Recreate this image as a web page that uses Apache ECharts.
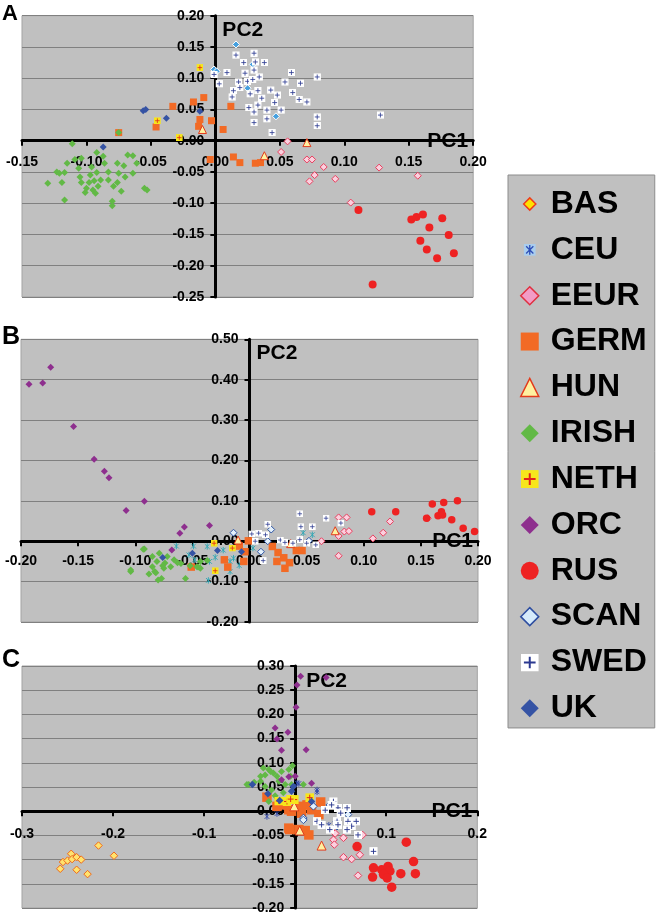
<!DOCTYPE html>
<html><head><meta charset="utf-8">
<script src="https://cdn.jsdelivr.net/npm/echarts@6/dist/echarts.min.js"></script>
<style>html,body{margin:0;padding:0;background:#fff}#c{width:656px;height:914px}</style>
</head><body><div id="c"></div>
<script>
// ---------------- DATA ----------------
const groups = ["BAS","CEU","EEUR","GERM","HUN","IRISH","NETH","ORC","RUS","SCAN","SWED","UK"];
const panelLetters = ["A","B","C"];
const axisTitleX = "PC1", axisTitleY = "PC2";

// Panel A
const A_EEUR = [[0.056,-0.001],[0.051,-0.018],[0.071,-0.030],[0.075,-0.030],[0.084,-0.042],[0.077,-0.055],[0.073,-0.065],[0.093,-0.061],[0.127,-0.043],[0.157,-0.056],[0.105,-0.099]];
const A_GERM = [[-0.075,0.013],[-0.046,0.022],[-0.033,0.055],[-0.017,0.062],[-0.009,0.069],[-0.012,0.034],[-0.013,0.023],[-0.003,0.032],[0.006,0.018],[0.012,0.055],[-0.004,-0.030],[0.014,-0.026],[0.019,-0.035],[0.031,-0.036],[0.035,-0.035]];
const A_HUN = [[-0.010,0.018],[0.038,-0.024],[0.071,-0.003]];
const A_IRISH = [[-0.111,-0.005],[-0.092,-0.019],[-0.075,0.013],[-0.068,-0.023],[-0.064,-0.024],[-0.061,-0.036],[-0.115,-0.036],[-0.104,-0.028],[-0.106,-0.044],[-0.096,-0.042],[-0.086,-0.036],[-0.076,-0.036],[-0.071,-0.040],[-0.123,-0.050],[-0.121,-0.052],[-0.117,-0.051],[-0.105,-0.058],[-0.097,-0.055],[-0.092,-0.051],[-0.083,-0.050],[-0.075,-0.052],[-0.070,-0.058],[-0.064,-0.052],[-0.130,-0.068],[-0.119,-0.067],[-0.104,-0.067],[-0.098,-0.067],[-0.094,-0.064],[-0.089,-0.063],[-0.083,-0.063],[-0.076,-0.067],[-0.100,-0.076],[-0.095,-0.079],[-0.091,-0.073],[-0.079,-0.073],[-0.101,-0.083],[-0.093,-0.084],[-0.073,-0.081],[-0.055,-0.076],[-0.053,-0.079],[-0.117,-0.095],[-0.080,-0.097],[-0.080,-0.104],[-0.109,-0.030],[-0.087,-0.025]];
const A_NETH = [[-0.012,0.117],[-0.045,0.032],[-0.028,0.005]];
const A_RUS = [[0.111,-0.111],[0.152,-0.126],[0.156,-0.122],[0.161,-0.118],[0.176,-0.124],[0.166,-0.139],[0.159,-0.160],[0.164,-0.174],[0.172,-0.188],[0.181,-0.151],[0.185,-0.180],[0.122,-0.230]];
const A_SCAN = [[0.016,0.154],[-0.001,0.114],[0.001,0.111],[0.029,0.122],[0.025,0.084],[0.047,0.039]];
const A_SWED = [[0.016,0.137],[0.030,0.140],[0.022,0.125],[0.031,0.126],[0.038,0.125],[-0.001,0.106],[0.009,0.109],[0.003,0.091],[0.023,0.108],[0.030,0.113],[0.034,0.102],[0.018,0.094],[0.025,0.095],[0.029,0.098],[0.014,0.080],[0.019,0.085],[0.013,0.070],[0.027,0.075],[0.033,0.080],[0.036,0.068],[0.043,0.081],[0.048,0.073],[0.046,0.061],[0.040,0.049],[0.051,0.049],[0.033,0.057],[0.026,0.053],[0.030,0.046],[0.040,0.035],[0.030,0.029],[0.044,0.013],[0.054,0.094],[0.059,0.109],[0.066,0.092],[0.060,0.077],[0.065,0.066],[0.071,0.062],[0.079,0.102],[0.079,0.038],[0.079,0.024],[0.128,0.041]];
const A_UK = [[-0.056,0.048],[-0.054,0.050],[-0.038,0.036],[-0.087,-0.010],[-0.012,0.047]];

// Panel B
const B_CEU = [[-0.064,-0.012],[-0.049,-0.012],[-0.037,-0.013],[-0.035,-0.050],[-0.036,-0.097],[-0.017,-0.050],[-0.023,-0.022],[-0.048,-0.046],[-0.053,-0.034],[-0.017,-0.075],[-0.014,-0.042],[0.003,-0.017],[0.047,0.021],[0.055,0.016],[-0.030,-0.040],[-0.009,-0.060]];
const B_EEUR = [[0.063,0.000],[0.078,0.059],[0.085,0.059],[0.078,0.013],[0.083,0.024],[0.087,0.025],[0.078,-0.036],[0.108,0.007],[0.117,0.021],[0.123,0.049],[0.156,0.057]];
const B_GERM = [[-0.051,-0.064],[-0.022,-0.046],[-0.019,-0.064],[-0.005,-0.050],[-0.001,0.001],[-0.004,-0.026],[-0.009,-0.012],[0.020,-0.013],[0.025,-0.028],[0.031,-0.067],[0.035,-0.053],[0.041,-0.023],[0.046,-0.023],[0.024,-0.050],[0.030,-0.041]];
const B_HUN = [[-0.010,0.003],[0.036,-0.006],[0.075,0.026]];
const B_IRISH = [[-0.092,-0.019],[-0.085,-0.038],[-0.079,-0.030],[-0.072,-0.038],[-0.081,-0.050],[-0.074,-0.054],[-0.069,-0.063],[-0.066,-0.046],[-0.063,-0.053],[-0.104,-0.075],[-0.088,-0.081],[-0.083,-0.075],[-0.080,-0.096],[-0.077,-0.092],[-0.056,-0.092],[-0.046,-0.063],[-0.043,-0.067],[-0.060,-0.055],[-0.076,-0.061],[-0.085,-0.063],[-0.075,-0.067],[-0.082,-0.078],[-0.052,-0.061],[-0.045,-0.064],[-0.043,-0.050],[-0.037,-0.048],[-0.104,-0.071],[-0.093,-0.020]];
const B_NETH = [[-0.031,-0.005],[-0.015,-0.017],[-0.030,-0.073]];
const B_ORC = [[-0.193,0.389],[-0.181,0.392],[-0.174,0.431],[-0.154,0.284],[-0.136,0.203],[-0.127,0.173],[-0.123,0.157],[-0.108,0.076],[-0.092,0.099],[-0.057,0.035],[-0.061,0.020],[-0.035,0.039],[-0.068,-0.022]];
const B_RUS = [[0.107,0.073],[0.128,0.073],[0.160,0.092],[0.170,0.096],[0.182,0.100],[0.168,0.073],[0.165,0.063],[0.169,0.065],[0.155,0.057],[0.177,0.053],[0.187,0.032],[0.197,0.024]];
const B_SCAN = [[-0.014,0.021],[0.019,0.029],[0.010,-0.026],[0.052,0.001],[0.016,0.000]];
const B_SWED = [[0.002,0.018],[0.008,0.020],[0.014,0.016],[0.016,0.042],[0.005,0.000],[0.012,-0.048],[0.027,0.003],[0.031,-0.003],[0.044,0.068],[0.045,0.036],[0.055,0.036],[0.044,0.004],[0.067,0.057],[0.058,-0.009],[0.080,0.045],[0.038,-0.005],[0.050,-0.005]];
const B_UK = [[-0.076,-0.040],[-0.050,-0.030],[-0.028,-0.023],[-0.007,-0.026]];

// Panel C
const C_BAS = [[-0.216,-0.071],[-0.199,-0.092],[-0.246,-0.088],[-0.255,-0.105],[-0.250,-0.102],[-0.245,-0.099],[-0.240,-0.095],[-0.235,-0.100],[-0.258,-0.119],[-0.240,-0.121],[-0.228,-0.130]];
const C_CEU = [[0.002,0.058],[0.024,0.044],[-0.031,-0.011],[0.044,-0.026],[0.024,0.040],[0.037,-0.029],[0.004,0.057],[-0.020,-0.005]];
const C_EEUR = [[0.044,-0.046],[0.053,-0.055],[0.042,-0.059],[0.043,-0.069],[0.053,-0.095],[0.062,-0.099],[0.071,-0.090],[0.071,-0.049],[0.074,-0.049],[0.069,-0.133]];
const C_GERM = [[-0.031,0.029],[-0.020,0.010],[-0.007,0.003],[-0.004,0.000],[0.004,0.010],[0.018,0.003],[0.026,-0.007],[0.028,0.019],[-0.006,-0.038],[0.004,-0.038],[0.011,-0.040],[0.015,-0.049],[-0.013,0.013],[0.013,0.013],[0.007,-0.004],[-0.007,-0.035]];
const C_HUN = [[-0.001,0.010],[0.005,-0.040],[0.029,-0.071]];
const C_IRISH = [[-0.051,0.055],[-0.038,0.062],[-0.033,0.075],[-0.029,0.086],[-0.024,0.079],[-0.033,0.051],[-0.026,0.044],[-0.018,0.062],[-0.011,0.055],[-0.007,0.086],[-0.003,0.094],[-0.022,0.032],[-0.029,0.020],[-0.020,0.072],[-0.015,0.082],[-0.005,0.072],[-0.013,0.038],[-0.053,0.055],[-0.035,0.089],[-0.027,0.082],[-0.004,0.055],[0.009,0.055],[-0.038,0.072],[-0.045,0.060]];
const C_NETH = [[-0.018,0.021],[-0.009,0.020],[-0.001,0.024],[0.016,0.028],[-0.005,0.025]];
const C_ORC = [[0.006,0.279],[0.034,0.276],[0.002,0.261],[0.001,0.215],[-0.022,0.172],[-0.008,0.163],[-0.020,0.149],[-0.015,0.126],[0.012,0.127],[-0.007,0.071],[0.000,0.072],[-0.015,0.065],[0.018,0.058]];
const C_RUS = [[0.068,-0.073],[0.122,-0.064],[0.086,-0.117],[0.095,-0.121],[0.102,-0.114],[0.104,-0.124],[0.097,-0.131],[0.101,-0.138],[0.085,-0.136],[0.116,-0.129],[0.130,-0.104],[0.132,-0.129],[0.106,-0.157]];
const C_SCAN = [[0.009,-0.014],[0.038,0.013],[0.046,-0.031],[0.020,0.010],[0.058,-0.007],[0.009,-0.018]];
const C_SWED = [[0.042,0.020],[0.047,0.007],[0.057,0.007],[0.050,-0.004],[0.024,-0.021],[0.029,-0.028],[0.046,-0.021],[0.058,-0.021],[0.067,-0.021],[0.062,-0.031],[0.086,-0.083],[0.038,-0.038],[0.057,-0.038],[0.069,-0.049],[0.040,0.013],[0.047,-0.028],[0.033,0.002]];
const C_UK = [[-0.030,0.036],[-0.004,0.041],[0.018,0.020],[-0.047,0.055],[-0.002,0.051],[-0.017,0.022]];

// axis ranges / ticks
const xMin = [-0.15,-0.20,-0.3], xMax = [0.20,0.20,0.2], xStep = [0.05,0.05,0.1];
const yMin = [-0.25,-0.20,-0.20], yMax = [0.20,0.50,0.30], yStep = [0.05,0.10,0.05];

const panelData = [
  {EEUR:A_EEUR,GERM:A_GERM,HUN:A_HUN,IRISH:A_IRISH,NETH:A_NETH,RUS:A_RUS,SCAN:A_SCAN,SWED:A_SWED,UK:A_UK},
  {CEU:B_CEU,EEUR:B_EEUR,GERM:B_GERM,HUN:B_HUN,IRISH:B_IRISH,NETH:B_NETH,ORC:B_ORC,RUS:B_RUS,SCAN:B_SCAN,SWED:B_SWED,UK:B_UK},
  {BAS:C_BAS,CEU:C_CEU,EEUR:C_EEUR,GERM:C_GERM,HUN:C_HUN,IRISH:C_IRISH,NETH:C_NETH,ORC:C_ORC,RUS:C_RUS,SCAN:C_SCAN,SWED:C_SWED,UK:C_UK}
];

// ---------------- STYLE ----------------
const FONT = 'Arial, "Liberation Sans", Helvetica, sans-serif';
function svgImg(s){ return 'image://data:image/svg+xml;charset=utf-8,' + encodeURIComponent(s); }
function plusIcon(bg, fg){ return svgImg('<svg xmlns="http://www.w3.org/2000/svg" width="40" height="40" viewBox="0 0 20 20"><rect x="0" y="0" width="20" height="20" fill="'+bg+'"/><path d="M10 3.5V16.5M3.5 10H16.5" stroke="'+fg+'" stroke-width="2.2" fill="none"/></svg>'); }
function astIcon(bg, fg, w){ return svgImg('<svg xmlns="http://www.w3.org/2000/svg" width="40" height="40" viewBox="0 0 20 20"><rect x="0" y="0" width="20" height="20" fill="'+bg+'"/><path d="M4 4L16 16M16 4L4 16M10 2V18" stroke="'+fg+'" stroke-width="'+w+'" fill="none"/></svg>'); }
const basLegendIcon = svgImg('<svg xmlns="http://www.w3.org/2000/svg" width="40" height="40" viewBox="0 0 20 20"><path d="M10 3.2L16.8 10L10 16.8L3.2 10Z" fill="#ffe100" stroke="#ee3a1a" stroke-width="1.6"/></svg>');
const ceuLegendIcon = svgImg('<svg xmlns="http://www.w3.org/2000/svg" width="40" height="40" viewBox="0 0 20 20"><rect x="3.5" y="3.5" width="13" height="13" fill="#a9cdee"/><path d="M6 6L14 14M14 6L6 14M10 4.5V15.5" stroke="#2f4fb8" stroke-width="1.5" fill="none"/></svg>');

const baseStyle = {
  BAS:  {symbol:'diamond', color:'#ffe36e', border:'#ef6a1a', bw:1},
  CEU:  {symbol:astIcon('none','#2f46a8',2.2)},
  EEUR: {symbol:'diamond', color:'#fbd0de', border:'#e8405f', bw:1},
  GERM: {symbol:'rect', color:'#f26a25'},
  HUN:  {symbol:'triangle', color:'#fff1a0', border:'#e33a1c', bw:1},
  IRISH:{symbol:'diamond', color:'#62b946'},
  NETH: {symbol:plusIcon('#f7e61c','#e2231a')},
  ORC:  {symbol:'diamond', color:'#8e2f8e'},
  RUS:  {symbol:'circle', color:'#ee2222'},
  SCAN: {symbol:'diamond', color:'#e4f1fc', border:'#2e55a5', bw:1},
  SWED: {symbol:plusIcon('#ffffff','#2b3990')},
  UK:   {symbol:'diamond', color:'#3553a4'}
};
const panelStyle = [
  {SCAN:{symbol:'diamond', color:'#46a0de', border:'#ffffff', bw:1}},
  {CEU:{symbol:astIcon('none','#33a7b6',2.4)}},
  {}
];
const panelSize = [
  {def:7, RUS:8, GERM:7, HUN:8, SWED:7.5},
  {def:7, RUS:7.5, GERM:7.5, HUN:8, CEU:8},
  {def:7.5, RUS:9.5, GERM:9.5, HUN:9, IRISH:7, ORC:7, SWED:8.5, NETH:9, CEU:8}
];

const grids = [
  {left:22, top:15.7, width:451.2, height:281.3},
  {left:21, top:339.3, width:457, height:282.7},
  {left:22, top:666, width:455.3, height:242}
];
const xLabelMargin = [14, 13, 16];
const pc1Pad = [20, 16, 20];
const pc2Gap = [15, 14, 14.8];
const pc2Left = [7, 7, 11];
const letterY = [14, 337, 659.7];
const letterSize = [22, 25, 25];

function fmtX(p){ return v => (p===2 ? (Math.abs(v)<1e-9 ? '0' : v.toFixed(1)) : v.toFixed(2)); }

const axisLabelBase = {color:'#000', fontWeight:'bold', fontSize:14, fontFamily:FONT};
const xAxis = [], yAxis = [], gridOpt = [], series = [];
for (let p=0;p<3;p++){
  const g = grids[p];
  // place the axes where the other axis is zero (axis crossing), as in the original
  const xAxisOffset = -((0 - yMin[p]) / (yMax[p] - yMin[p])) * g.height;
  const yAxisOffset = -((0 - xMin[p]) / (xMax[p] - xMin[p])) * g.width;
  gridOpt.push(Object.assign({show:true, backgroundColor:'#c0c0c0', borderColor:'#a3a3a3', borderWidth:1, containLabel:false, outerBoundsMode:'none'}, g));
  xAxis.push({type:'value', gridIndex:p, min:xMin[p], max:xMax[p], interval:xStep[p],
    position:'bottom', offset:xAxisOffset,
    splitLine:{show:false},
    axisLine:{show:true, onZero:false, lineStyle:{color:'#000', width:3}},
    axisTick:{show:true, inside:false, length:5, lineStyle:{color:'#000', width:2}},
    axisLabel:Object.assign({formatter:fmtX(p), margin:xLabelMargin[p], hideOverlap:false, showMinLabel:true, showMaxLabel:true}, axisLabelBase),
    name:axisTitleX, nameLocation:'end', nameGap:-5,
    nameTextStyle:{fontFamily:FONT, fontWeight:'bold', fontSize:21, color:'#000', align:'right', verticalAlign:'middle', padding:[0,0,pc1Pad[p],0]}
  });
  yAxis.push({type:'value', gridIndex:p, min:yMin[p], max:yMax[p], interval:yStep[p],
    position:'left', offset:yAxisOffset,
    splitLine:{show:true, lineStyle:{color:'#808080', width:1}},
    axisLine:{show:true, onZero:false, lineStyle:{color:'#000', width:3}},
    axisTick:{show:true, inside:false, length:5, lineStyle:{color:'#000', width:2}},
    axisLabel:Object.assign({formatter:v=>v.toFixed(2), margin:11, hideOverlap:false, showMinLabel:true, showMaxLabel:true}, axisLabelBase),
    name:axisTitleY, nameLocation:'end', nameGap:-pc2Gap[p],
    nameTextStyle:{fontFamily:FONT, fontWeight:'bold', fontSize:21, color:'#000', align:'left', verticalAlign:'middle', padding:[0,0,0,pc2Left[p]]}
  });
  groups.forEach(gr => {
    const d = panelData[p][gr];
    if (!d) return;
    const st = Object.assign({}, baseStyle[gr], panelStyle[p][gr] || {});
    const size = panelSize[p][gr] || panelSize[p].def;
    series.push({type:'scatter', name:gr, xAxisIndex:p, yAxisIndex:p, data:d,
      symbol:st.symbol, symbolSize:size, silent:true,
      itemStyle:{color:st.color || '#000', borderColor:st.border || 'transparent', borderWidth:st.bw || 0, opacity:1},
      emphasis:{disabled:true}});
  });
}

const legendData = groups.map(gr => {
  const st = baseStyle[gr];
  const o = {name:gr, icon: st.symbol};
  if (!String(st.symbol).startsWith('image://')) {
    o.itemStyle = {color:st.color, borderColor:st.border || st.color, borderWidth:st.bw ? 1.5 : 0};
  }
  return o;
});
legendData[0] = {name:'BAS', icon:basLegendIcon};
legendData[1] = {name:'CEU', icon:ceuLegendIcon};
legendData[2].itemStyle = {color:'#f29cc6', borderColor:'#e0303f', borderWidth:1.5};
legendData[9].itemStyle = {color:'#d6ebfb', borderColor:'#2e4ea0', borderWidth:1.5};

const graphic = panelLetters.map((t,i) => ({type:'text', x:2, y:letterY[i], silent:true,
  style:{text:t, fill:'#000', font:'bold '+letterSize[i]+'px '+FONT, verticalAlign:'middle', align:'left'}}));

const chart = echarts.init(document.getElementById('c'), null, {renderer:'canvas'});
chart.setOption({
  animation:false,
  backgroundColor:'#ffffff',
  grid:gridOpt, xAxis, yAxis, series, graphic,
  legend:{orient:'vertical', left:508, top:175, padding:[13,8,3.6,12], itemWidth:18, itemHeight:18, itemGap:13.85,
    selectedMode:false, backgroundColor:'#c0c0c0', borderColor:'#8c8c8c', borderWidth:1,
    textStyle:{fontFamily:FONT, fontSize:32, fontWeight:'bold', color:'#000', padding:[0,0,0,7]},
    data:legendData}
});
</script></body></html>
